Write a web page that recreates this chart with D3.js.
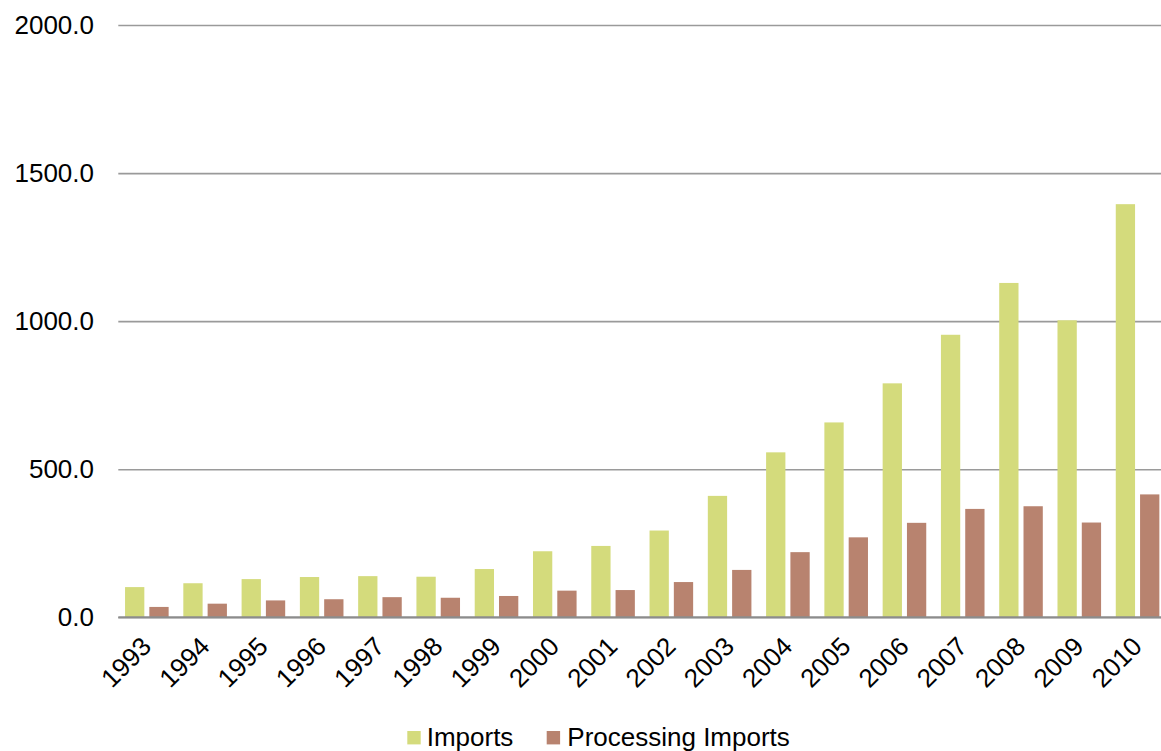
<!DOCTYPE html>
<html>
<head>
<meta charset="utf-8">
<script src="https://cdn.jsdelivr.net/npm/d3@7"></script>
<style>
  html, body { margin: 0; padding: 0; background: #ffffff; }
  svg { display: block; }
  text { font-family: "Liberation Sans", Arial, sans-serif; fill: #000; }
</style>
</head>
<body>
<svg id="chart" width="1161" height="751"></svg>
<script>
const years = ["1993","1994","1995","1996","1997","1998","1999","2000","2001","2002","2003","2004","2005","2006","2007","2008","2009","2010"];
const seriesNames = ["Imports", "Processing Imports"];
const imports = [102, 115, 129, 136, 139, 137, 163, 223, 241, 293, 410, 557, 658, 790, 954, 1129, 1003, 1395];
const processingImports = [35, 46, 57, 61, 68, 66, 72, 90, 92, 119, 160, 220, 270, 319, 366, 375, 320, 415];
const yTicks = [0, 500, 1000, 1500, 2000];
const colors = ["#d4db7c", "#b8836f"];

(function () {
const svg = d3.select("#chart");
const plotLeft = 117.7, plotRight = 1166.7, plotTop = 25, plotBottom = 617.3;

const x0 = d3.scaleBand().domain(years).range([plotLeft, plotRight]).paddingInner(0.252).paddingOuter(0.126);
const x1 = d3.scaleBand().domain(seriesNames).range([0, x0.bandwidth()]).paddingInner(0.206).paddingOuter(0);
const y = d3.scaleLinear().domain([0, 2000]).range([plotBottom, plotTop]);
const color = d3.scaleOrdinal().domain(seriesNames).range(colors);

// gridlines + y labels
const yAxis = d3.axisLeft(y).tickValues(yTicks).tickSize(-(1161 - 118.3)).tickFormat(d => d3.format(".1f")(d)).tickPadding(24);
const gy = svg.append("g").attr("transform", "translate(118.3,0)").call(yAxis);
gy.select(".domain").remove();
gy.selectAll(".tick line").attr("stroke", "#9a9a9a").attr("stroke-width", 1.6);
gy.selectAll(".tick text").attr("font-size", "26px").attr("font-family", "Liberation Sans, Arial, sans-serif").attr("fill", "#000").attr("x", -24.3);

// bars
const data = years.map((yr, i) => ({ year: yr, values: [
  { key: seriesNames[0], value: imports[i] },
  { key: seriesNames[1], value: processingImports[i] }
]}));

const groups = svg.append("g").selectAll("g").data(data).join("g")
  .attr("transform", d => `translate(${x0(d.year)},0)`);
groups.selectAll("rect").data(d => d.values).join("rect")
  .attr("x", d => x1(d.key))
  .attr("width", x1.bandwidth())
  .attr("y", d => y(d.value))
  .attr("height", d => y(0) - y(d.value))
  .attr("fill", d => color(d.key));

// baseline
svg.append("line").attr("x1", 118.3).attr("x2", 1161).attr("y1", y(0)).attr("y2", y(0))
  .attr("stroke", "#8c8c8c").attr("stroke-width", 2);

// x labels
const xl = svg.append("g");
xl.selectAll("text").data(years).join("text")
  .attr("transform", d => `translate(${x0(d) + x0.bandwidth() / 2 + 6},648) rotate(-45)`)
  .attr("text-anchor", "end")
  .attr("font-size", "26px")
  .text(d => d);

// legend
const legendItems = [
  { name: seriesNames[0], sx: 407.3, tx: 426.7 },
  { name: seriesNames[1], sx: 546.7, tx: 567.3 }
];
const lg = svg.append("g");
lg.selectAll("rect").data(legendItems).join("rect")
  .attr("x", d => d.sx).attr("y", 731).attr("width", 13.4).attr("height", 13.4)
  .attr("fill", d => color(d.name));
lg.selectAll("text").data(legendItems).join("text")
  .attr("x", d => d.tx).attr("y", 746)
  .attr("font-size", "26px")
  .text(d => d.name);
})();
</script>
</body>
</html>
